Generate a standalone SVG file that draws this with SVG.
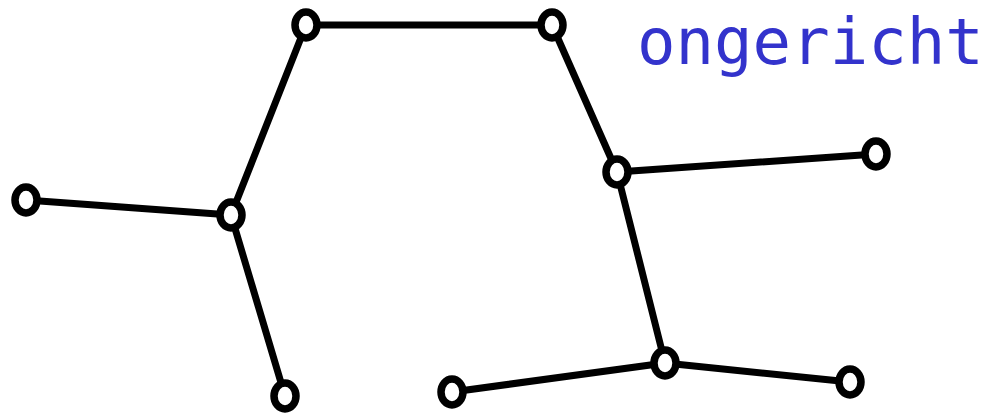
<svg xmlns="http://www.w3.org/2000/svg" width="987" height="417" viewBox="0 0 987 417">
<style>
.e{stroke:#000;stroke-width:7;stroke-linecap:round;fill:none}
.n{fill:#fff;stroke:#000;stroke-width:7.5}
.t{font-family:"DejaVu Sans Mono",monospace;font-size:64px;fill:#3333cc}
</style>
<rect width="987" height="417" fill="#fff"/>
<g id="connectors">
<line class="e" x1="306" y1="25" x2="552" y2="25"/>
<line class="e" x1="306" y1="25" x2="231" y2="215"/>
<line class="e" x1="552" y1="25" x2="617" y2="172"/>
<line class="e" x1="617" y1="172" x2="876" y2="154"/>
<line class="e" x1="617" y1="172" x2="665" y2="363"/>
<line class="e" x1="231" y1="215" x2="26" y2="200"/>
<line class="e" x1="231" y1="215" x2="285" y2="396"/>
<line class="e" x1="665" y1="363" x2="452" y2="392"/>
<line class="e" x1="665" y1="363" x2="850" y2="382"/>
</g>
<g id="n1"><ellipse class="n" cx="306" cy="25" rx="11" ry="13"/></g>
<g id="n2"><ellipse class="n" cx="552" cy="25" rx="11" ry="13"/></g>
<g id="n3"><ellipse class="n" cx="617" cy="172" rx="11" ry="13"/></g>
<g id="n4"><ellipse class="n" cx="876" cy="154" rx="11" ry="13"/></g>
<g id="n5"><ellipse class="n" cx="231" cy="215" rx="11" ry="13"/></g>
<g id="n6"><ellipse class="n" cx="26" cy="200" rx="11" ry="13"/></g>
<g id="n7"><ellipse class="n" cx="285" cy="396" rx="11" ry="13"/></g>
<g id="n8"><ellipse class="n" cx="665" cy="363" rx="11" ry="13"/></g>
<g id="n9"><ellipse class="n" cx="452" cy="392" rx="11" ry="13"/></g>
<g id="n10"><ellipse class="n" cx="850" cy="382" rx="11" ry="13"/></g>
<g id="label"><text class="t" x="637" y="64">ongericht</text></g>
</svg>
